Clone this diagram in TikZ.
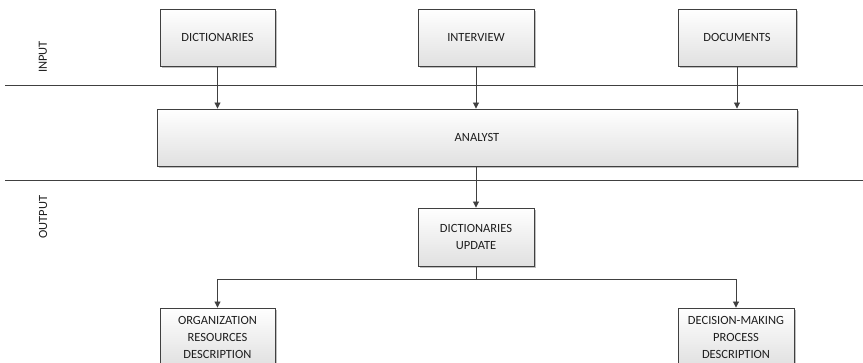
\documentclass[tikz,border=0pt]{standalone}
\usepackage{fontspec}
\setmainfont{Carlito}
\usetikzlibrary{arrows.meta}
\usetikzlibrary{shadows}

\definecolor{lineGray}{RGB}{64,64,64}
\definecolor{textGray}{RGB}{30,30,30}

\tikzset{
  procbox/.style={draw=lineGray, line width=0.9pt, top color=white, bottom color=black!12,
    drop shadow={shadow xshift=2pt, shadow yshift=-2pt, fill=black!25, opacity=1},
    minimum width=115pt, minimum height=57pt, align=center, inner sep=2pt,
    font=\fontsize{12.5}{17}\selectfont, text=textGray},
  flowarrow/.style={draw=lineGray, line width=0.9pt, -{Triangle[width=6pt,length=6pt]}},
  sepline/.style={draw=lineGray, line width=0.9pt},
  zonelabel/.style={rotate=90, font=\fontsize{12.5}{14}\selectfont, text=textGray}
}

\begin{document}
\begin{tikzpicture}[x=1pt,y=1pt,yscale=-1,xscale=1]
	\clip (0,0) rectangle (863,363);
	
	%Separator lines
	\draw [sepline] (5,85) -- (863,85) ;
	\draw [sepline] (5,180) -- (863,180) ;
	
	% Text Node
	\node [zonelabel] (lblIn) at (43,57) {INPUT};
	% Text Node
	\node [zonelabel] (lblOut) at (43,217) {OUTPUT};
	
	%Shape: Input boxes
	\node [procbox] (dict) at (217.5,37.5) {DICTIONARIES};
	\node [procbox, minimum width=116pt] (interview) at (476,37.5) {INTERVIEW};
	\node [procbox, minimum width=118pt] (docs) at (737,37.5) {DOCUMENTS};
	
	%Shape: Analyst
	\node [procbox, minimum width=640pt] (analyst) at (477,137.5) {ANALYST};
	
	%Shape: Output boxes
	\node [procbox, minimum width=116pt, minimum height=58pt] (update) at (476,237) {DICTIONARIES\\UPDATE};
	\node [procbox, minimum height=58pt] (orgres) at (217.5,337) {ORGANIZATION\\RESOURCES\\DESCRIPTION};
	\node [procbox, minimum width=116pt, minimum height=58pt] (decision) at (736,337) {DECISION-MAKING\\PROCESS\\DESCRIPTION};
	
	%Connectors
	\draw [flowarrow] (dict.south) -- (dict.south |- analyst.north) ;
	\draw [flowarrow] (interview.south) -- (interview.south |- analyst.north) ;
	\draw [flowarrow] (docs.south) -- (docs.south |- analyst.north) ;
	\draw [flowarrow] (update.north |- analyst.south) -- (update.north) ;
	
	\coordinate (fork) at (476,279) ;
	\draw [sepline] (update.south) -- (fork) ;
	\draw [flowarrow] (fork) -| (orgres.north) ;
	\draw [flowarrow] (fork) -| (decision.north) ;
	
\end{tikzpicture}
\end{document}
